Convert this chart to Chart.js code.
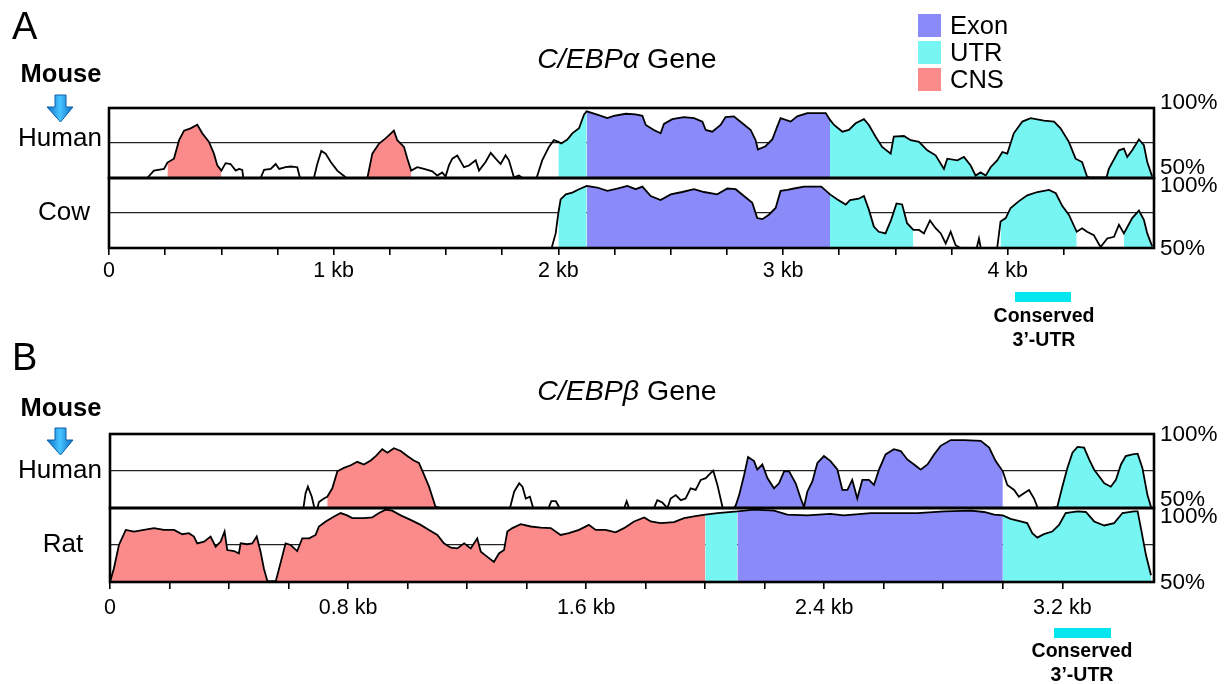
<!DOCTYPE html>
<html lang="en">
<head>
  <meta charset="UTF-8">
  <title>C/EBP conservation plots</title>
  <style>
    body {
      margin: 0;
      background: #fff;
      font-family: "Liberation Sans", Arial, sans-serif;
      color: #000;
    }
    .page {
      position: relative;
      width: 1231px;
      height: 684px;
      overflow: hidden;
      background: #fff;
    }
    .page canvas {
      position: absolute;
      left: 0;
      top: 0;
    }
    .lbl {
      position: absolute;
      white-space: nowrap;
      line-height: 1;
      transform: translate(-50%, -50%);
    }
    .lft {
      position: absolute;
      white-space: nowrap;
      line-height: 1;
      transform: translateY(-50%);
    }
    .panel { font-size: 38px; }
    .mouse { font-size: 25.5px; font-weight: bold; }
    .species { font-size: 26px; }
    .title { font-size: 28.5px; }
    .pct { font-size: 22.5px; }
    .leg { font-size: 25.5px; }
    .cons { font-size: 19.5px; font-weight: bold; }
    .box { position: absolute; }
  </style>
  <script src="https://cdn.jsdelivr.net/npm/chart.js"></script>
</head>
<body>
<div class="page">
  <canvas id="alphaHuman" width="1231" height="684"></canvas>
  <canvas id="alphaCow" width="1231" height="684"></canvas>
  <canvas id="betaHuman" width="1231" height="684"></canvas>
  <canvas id="betaRat" width="1231" height="684"></canvas>

  <!-- panel A -->
  <div class="lft panel" style="left:12px;top:26px">A</div>
  <div class="lbl title" style="left:627px;top:58px"><i>C/EBPα</i> Gene</div>
  <div class="lbl mouse" style="left:61px;top:74px">Mouse</div>
  <svg style="position:absolute;left:46px;top:94px" width="28" height="29" viewBox="0 0 28 29">
    <defs>
      <linearGradient id="arrowA" x1="0" x2="1" y1="0" y2="0">
        <stop offset="0" stop-color="#0a6cc4"/>
        <stop offset="0.5" stop-color="#47c4ff"/>
        <stop offset="1" stop-color="#0a6cc4"/>
      </linearGradient>
    </defs>
    <path d="M9 1 H20 V13 H27 L14.5 28 L1 13 H9 Z" fill="url(#arrowA)" stroke="#0b5fa8" stroke-width="1"/>
  </svg>
  <div class="lbl species" style="left:60px;top:137px">Human</div>
  <div class="lbl species" style="left:64px;top:211px">Cow</div>

  <div class="box" style="left:918px;top:14px;width:23px;height:23px;background:#8a8af9"></div>
  <div class="box" style="left:918px;top:41px;width:23px;height:23px;background:#76f5f2"></div>
  <div class="box" style="left:918px;top:68px;width:23px;height:23px;background:#fb8b8b"></div>
  <div class="lft leg" style="left:950px;top:26px">Exon</div>
  <div class="lft leg" style="left:950px;top:53px">UTR</div>
  <div class="lft leg" style="left:950px;top:80px">CNS</div>

  <div class="lft pct" style="left:1160px;top:102px">100%</div>
  <div class="lft pct" style="left:1160px;top:167px">50%</div>
  <div class="lft pct" style="left:1160px;top:185px">100%</div>
  <div class="lft pct" style="left:1160px;top:248px">50%</div>

  <div class="box" style="left:1015px;top:292px;width:56px;height:10px;background:#06e6f0"></div>
  <div class="lbl cons" style="left:1044px;top:316px">Conserved</div>
  <div class="lbl cons" style="left:1044px;top:340px">3’-UTR</div>

  <!-- panel B -->
  <div class="lft panel" style="left:12px;top:357px">B</div>
  <div class="lbl title" style="left:627px;top:390px"><i>C/EBPβ</i> Gene</div>
  <div class="lbl mouse" style="left:61px;top:408px">Mouse</div>
  <svg style="position:absolute;left:46px;top:427px" width="28" height="29" viewBox="0 0 28 29">
    <defs>
      <linearGradient id="arrowB" x1="0" x2="1" y1="0" y2="0">
        <stop offset="0" stop-color="#0a6cc4"/>
        <stop offset="0.5" stop-color="#47c4ff"/>
        <stop offset="1" stop-color="#0a6cc4"/>
      </linearGradient>
    </defs>
    <path d="M9 1 H20 V13 H27 L14.5 28 L1 13 H9 Z" fill="url(#arrowB)" stroke="#0b5fa8" stroke-width="1"/>
  </svg>
  <div class="lbl species" style="left:60px;top:469px">Human</div>
  <div class="lbl species" style="left:63px;top:543px">Rat</div>

  <div class="lft pct" style="left:1160px;top:434px">100%</div>
  <div class="lft pct" style="left:1160px;top:499px">50%</div>
  <div class="lft pct" style="left:1160px;top:516px">100%</div>
  <div class="lft pct" style="left:1160px;top:582px">50%</div>

  <div class="box" style="left:1054px;top:628px;width:57px;height:10px;background:#06e6f0"></div>
  <div class="lbl cons" style="left:1082px;top:651px">Conserved</div>
  <div class="lbl cons" style="left:1082px;top:675px">3’-UTR</div>
</div>

<script>
  // Position along the mouse sequence (kb) and percent identity; null = no alignment
  const alphaHumanPos = [0.170, 0.200, 0.245, 0.260, 0.289, 0.312, 0.334, 0.363, 0.393, 0.415, 0.445, 0.467, 0.482, 0.500,
    0.519, 0.541, 0.564, 0.579, 0.593, 0.598, 0.600, 0.675, 0.690, 0.720, 0.742, 0.757, 0.786, 0.809, 0.838, 0.850, 0.860,
    0.912, 0.927, 0.945, 0.964, 0.987, 1.016, 1.053, 1.060, 1.150, 1.172, 1.202, 1.231, 1.268, 1.283, 1.313, 1.328, 1.345,
    1.372, 1.402, 1.439, 1.461, 1.483, 1.498, 1.513, 1.528, 1.550, 1.580, 1.602, 1.632, 1.647, 1.676, 1.699, 1.721, 1.743,
    1.765, 1.780, 1.802, 1.825, 1.840, 1.850, 1.903, 1.928, 1.958, 1.980, 2.000, 2.013, 2.040, 2.062, 2.092, 2.114, 2.126,
    2.173, 2.218, 2.247, 2.300, 2.344, 2.374, 2.389, 2.425, 2.455, 2.470, 2.507, 2.559, 2.604, 2.641, 2.656, 2.685, 2.722,
    2.744, 2.781, 2.819, 2.856, 2.878, 2.888, 2.922, 2.952, 2.974, 2.989, 3.034, 3.063, 3.108, 3.190, 3.209, 3.227, 3.264,
    3.293, 3.323, 3.360, 3.382, 3.412, 3.441, 3.479, 3.493, 3.538, 3.568, 3.605, 3.642, 3.679, 3.716, 3.731, 3.776, 3.805,
    3.835, 3.857, 3.879, 3.902, 3.924, 3.953, 3.976, 3.998, 4.027, 4.065, 4.102, 4.161, 4.206, 4.235, 4.272, 4.302, 4.331,
    4.353, 4.365, 4.440, 4.450, 4.495, 4.517, 4.532, 4.554, 4.584, 4.606, 4.621, 4.643];
  const alphaHumanPct = [50, 55.3, 56.5, 61, 63.8, 77, 83.8, 85.5, 88, 82, 75.8, 67.4, 59, 55.3,
    60.6, 60, 55.3, 56.5, 55.8, 50, null, 50, 55.8, 56.5, 60, 56.5, 57.7, 58.2, 57.7, 50, null,
    50, 60, 69.3, 67.4, 61.4, 55.3, 50.5, null, 50, 67.4, 74.6, 78.3, 83.8, 77, 72.2, 63.8, 55.3,
    57.7, 56.5, 54.8, 51.7, 54, 51, 59, 63.8, 66, 57.7, 58.9, 62.6, 55.3, 61.4, 68, 63.8, 60,
    66.2, 62.6, 50.5, 51.7, 50, null, 50, 62.6, 72.2, 77, 75.8, 74.6, 77.5, 81.9, 85.5, 95.2, 97.6,
    95.2, 92.8, 94.4, 95.9, 95.4, 94.4, 87.9, 84.3, 81.9, 88.6, 92, 93.5, 92.8, 90.3, 84.3, 83.1, 87.9,
    93.5, 94, 89.1, 84.3, 77, 70.3, 72.7, 77.5, 86.7, 92.8, 90.3, 94, 96.4, 96.4, 91.5, 87.9, 83.1,
    84.3, 89.1, 92, 87.9, 79.5, 72.2, 67.4, 79.5, 80, 77, 75.8, 69.8, 66.2, 56.5, 63.8, 62.6, 65,
    58.9, 51.7, 54, 51.7, 57.7, 62.6, 68.6, 67.4, 81.9, 90.3, 92.8, 91, 90.3, 85.5, 75.8, 63.8, 61.4,
    51, 50.5, 50.5, 56.5, 69.8, 71, 65, 69.8, 77.5, 73.4, 61.4, 51];
  const alphaHumanRegions = [[0.260, 0.500, 'CNS'], [1.150, 1.345, 'CNS'], [2.000, 2.126, 'UTR'],
    [2.126, 3.209, 'Exon'], [3.209, 4.643, 'UTR']];

  const alphaCowPos = [1.970, 1.988, 2.000, 2.010, 2.033, 2.062, 2.092, 2.126, 2.173, 2.218, 2.262, 2.307, 2.344, 2.374,
    2.411, 2.455, 2.500, 2.551, 2.604, 2.648, 2.707, 2.752, 2.789, 2.826, 2.863, 2.885, 2.908, 2.937, 2.967, 2.989, 3.019,
    3.049, 3.093, 3.170, 3.209, 3.242, 3.279, 3.298, 3.337, 3.360, 3.382, 3.404, 3.426, 3.456, 3.481, 3.505, 3.530, 3.552,
    3.580, 3.605, 3.627, 3.654, 3.679, 3.702, 3.724, 3.746, 3.768, 3.790, 3.800, 3.862, 3.872, 3.880, 3.890, 3.953, 3.968,
    3.991, 4.013, 4.050, 4.087, 4.132, 4.184, 4.214, 4.243, 4.272, 4.307, 4.331, 4.353, 4.383, 4.413, 4.443, 4.473, 4.495,
    4.517, 4.554, 4.584, 4.606, 4.621, 4.643];
  const alphaCowPct = [50, 60.4, 75, 84.7, 88.3, 89.6, 92, 94.4, 93.2, 90.8, 92.5, 94.4, 92, 93.9,
    87.1, 84.2, 88.3, 90, 92, 90, 88.3, 92.5, 92, 87.1, 82.3, 71.4, 70.6, 73.8, 78.6, 90.8, 91.5,
    92.5, 93.9, 93.9, 88.3, 84.7, 81, 84.2, 85.2, 87.1, 77.4, 65.3, 61.6, 60.4, 70.1, 81.8, 81.1, 67.7,
    62.9, 62.9, 60.4, 69.7, 64.1, 60.4, 53.2, 61.6, 52, 50, null, 50, 56.8, 50, null, 50, 68.9,
    71.4, 78.6, 83.5, 87.6, 90, 91.5, 89.1, 79.9, 73.8, 61.6, 64.1, 61.6, 59.2, 50.7, 56.8, 58, 66.5,
    60.4, 71.4, 76.7, 70.1, 60.4, 51.2];
  const alphaCowRegions = [[2.000, 2.126, 'UTR'], [2.126, 3.209, 'Exon'], [3.209, 3.580, 'UTR'],
    [3.968, 4.307, 'UTR'], [4.517, 4.643, 'UTR']];

  const betaHumanPos = [0.650, 0.657, 0.665, 0.678, 0.686, 0.690, 0.697, 0.702, 0.719, 0.730, 0.747, 0.764, 0.786, 0.809,
    0.831, 0.853, 0.876, 0.893, 0.915, 0.932, 0.954, 0.977, 0.999, 1.021, 1.038, 1.055, 1.072, 1.094, 1.111, 1.120,
    1.344, 1.358, 1.375, 1.386, 1.397, 1.411, 1.422, 1.430, 1.475, 1.483, 1.498, 1.509, 1.515, 1.728, 1.736, 1.744, 1.750,
    1.828, 1.839, 1.856, 1.873, 1.884, 1.901, 1.918, 1.934, 1.951, 1.968, 1.985, 2.002, 2.013, 2.027, 2.041, 2.058, 2.065,
    2.097, 2.103, 2.114, 2.131, 2.144, 2.164, 2.175, 2.192, 2.209, 2.231, 2.248, 2.265, 2.282, 2.304, 2.321, 2.332, 2.343,
    2.360, 2.377, 2.399, 2.421, 2.444, 2.461, 2.478, 2.494, 2.511, 2.528, 2.550, 2.567, 2.584, 2.606, 2.634, 2.657, 2.679,
    2.702, 2.724, 2.747, 2.769, 2.791, 2.825, 2.870, 2.926, 2.954, 2.976, 3.000, 3.015, 3.038, 3.054, 3.071, 3.088, 3.105,
    3.116, 3.125, 3.165, 3.183, 3.200, 3.217, 3.234, 3.251, 3.273, 3.290, 3.307, 3.324, 3.341, 3.363, 3.380, 3.397, 3.413,
    3.436, 3.453, 3.469, 3.486, 3.498];
  const betaHumanPct = [50, 59.9, 64.4, 57.6, 50.7, null, 50, 54.1, 56.4, 57.6, 63.3, 74.8, 77.1, 78.9,
    81.2, 79.4, 82.1, 85.1, 89.7, 87.4, 90.4, 88.5, 85.1, 82.1, 80.5, 72.5, 64.4, 50.7, 50, null,
    50, 61, 66.7, 64.4, 56.4, 57.6, 50, null, 50.7, 54.6, 54.6, 50.7, null, 50, 54.6, 50, null,
    50, 55.3, 53.7, 50, 56.4, 58.7, 55.3, 56.4, 63.3, 62.2, 69, 70.2, 72.5, 75.2, 65.6, 50.7, null,
    50, 52, 58.7, 72.5, 84.4, 81.7, 76, 79.4, 70.2, 63.3, 66.7, 74.8, 74.8, 66.7, 56.4, 50.7, 61,
    67.9, 80.5, 85.1, 81.7, 76, 62.2, 62.2, 69, 56.4, 69, 69, 65.6, 75.9, 86.2, 89.7, 88.5, 82.8,
    79.4, 75.9, 79.4, 86.2, 92, 95.9, 95.9, 95.4, 90.8, 81.7, 74.8, 65.6, 62.2, 57.6, 59.9, 62.2, 56.4,
    50.7, null, 50, 50.7, 64.4, 77.1, 87.4, 91.3, 90.8, 82.8, 75.9, 71.3, 66.7, 64.4, 69, 79.4, 85.1,
    86.2, 86.7, 77.1, 58.7, 50.7];
  const betaHumanRegions = [[0.730, 1.111, 'CNS'], [2.103, 3.000, 'Exon'], [3.165, 3.498, 'UTR']];

  const betaRatPos = [0.000, 0.013, 0.030, 0.053, 0.081, 0.114, 0.148, 0.181, 0.215, 0.243, 0.265, 0.282, 0.293, 0.316,
    0.338, 0.355, 0.372, 0.385, 0.394, 0.417, 0.433, 0.439, 0.461, 0.478, 0.493, 0.506, 0.517, 0.529, 0.557, 0.574, 0.590,
    0.607, 0.629, 0.646, 0.669, 0.691, 0.702, 0.725, 0.753, 0.775, 0.797, 0.814, 0.853, 0.881, 0.904, 0.926, 0.948, 0.977,
    1.010, 1.044, 1.072, 1.100, 1.122, 1.145, 1.167, 1.190, 1.212, 1.234, 1.246, 1.268, 1.290, 1.307, 1.324, 1.335, 1.352,
    1.380, 1.414, 1.447, 1.481, 1.514, 1.542, 1.576, 1.609, 1.632, 1.665, 1.699, 1.727, 1.761, 1.795, 1.817, 1.850, 1.895,
    1.929, 1.962, 2.000, 2.041, 2.108, 2.164, 2.231, 2.276, 2.343, 2.420, 2.466, 2.556, 2.713, 2.803, 2.892, 2.937, 2.971,
    3.000, 3.026, 3.060, 3.082, 3.099, 3.116, 3.138, 3.166, 3.189, 3.211, 3.251, 3.279, 3.307, 3.341, 3.374, 3.402, 3.441,
    3.453, 3.464, 3.481, 3.498];
  const betaRatPct = [50, 59.1, 75, 85.2, 84.1, 85.2, 86.4, 85.2, 85.2, 82.3, 83, 80.7, 76.1, 77.3,
    80.7, 73.9, 77.3, 84.1, 71.6, 70.9, 69.3, 76.1, 75.5, 76.1, 80.7, 70.5, 59.1, 50.5, 50.5, 63.6, 76.1,
    75, 70.9, 79.5, 79.5, 81.8, 87.5, 90.9, 94.3, 96.6, 95, 93.2, 93.2, 93.6, 96.6, 98.9, 98.2, 95,
    92, 88.6, 85.2, 81.8, 76.1, 73.2, 72.7, 76.1, 72.7, 79.5, 70.5, 67, 63.6, 69.3, 71.6, 84.1, 86.4,
    89.1, 87.5, 86.8, 86.4, 81.8, 83, 85.2, 88.6, 85.2, 85.2, 83.6, 86.4, 90.9, 93.6, 90.9, 89.8, 90.5,
    93.2, 94.3, 95.5, 96.6, 97.7, 98.9, 98.2, 95.5, 95, 96, 95, 96.6, 96.6, 97.7, 98.2, 97.3, 95.5,
    95, 92.7, 90.9, 89.8, 83, 80, 82.3, 84.1, 88.6, 96.6, 97.7, 97.3, 90.9, 88.2, 89.8, 96.6, 97.7,
    97.7, 86.4, 68.2, 54.5];
  const betaRatRegions = [[0.000, 2.000, 'CNS'], [2.000, 2.108, 'UTR'], [2.108, 3.000, 'Exon'], [3.000, 3.498, 'UTR']];

  const FILL = { Exon: '#8a8af9', UTR: '#76f5f2', CNS: '#fb8b8b' };
  const W = 1231, H = 684, AXIS_H = 40;

  Chart.defaults.font.family = '"Liberation Sans", Arial, sans-serif';

  // black box round each track
  const frame = {
    id: 'frame',
    afterDraw(chart) {
      const { ctx, chartArea: a } = chart;
      ctx.save();
      ctx.lineWidth = 2.6;
      ctx.strokeStyle = '#000';
      ctx.strokeRect(a.left, a.top, a.right - a.left, a.bottom - a.top);
      ctx.restore();
    }
  };

  function near(v, step) {
    return Math.abs(v / step - Math.round(v / step)) < 1e-6;
  }

  function track(id, pos, pct, regions, g) {
    const pts = pos.map((x, i) => ({ x: x, y: pct[i] }));
    const fills = regions.map(([a, b, kind]) => ({
      data: pts.filter(p => p.y !== null && p.x >= a - 1e-9 && p.x <= b + 1e-9),
      borderWidth: 0,
      pointRadius: 0,
      backgroundColor: FILL[kind],
      fill: { value: 50 }
    }));

    new Chart(document.getElementById(id), {
      type: 'line',
      data: {
        datasets: [{
          data: pts,
          borderColor: '#000',
          borderWidth: 1.8,
          pointRadius: 0,
          fill: false,
          spanGaps: false
        }, ...fills]
      },
      options: {
        responsive: false,
        animation: false,
        events: [],
        layout: {
          padding: {
            left: g.left,
            right: W - g.right,
            top: g.top,
            bottom: H - g.bottom - (g.axis ? AXIS_H : 0)
          }
        },
        plugins: { legend: { display: false }, tooltip: { enabled: false } },
        scales: {
          x: {
            type: 'linear',
            min: 0,
            max: g.max,
            display: g.axis,
            afterBuildTicks: s => { s.ticks = s.ticks.filter(t => near(t.value, g.step)); },
            // only the bottom track of a panel keeps room for the kb axis
            afterFit: s => { s.height = g.axis ? AXIS_H : 0; },
            ticks: {
              stepSize: g.step,
              autoSkip: false,
              maxRotation: 0,
              padding: g.pad,
              color: '#000',
              font: { size: 21.5 },
              callback: v => near(v, g.every) ? (v === 0 ? '0' : (+v.toFixed(1)) + ' kb') : ''
            },
            grid: { drawOnChartArea: false, drawTicks: true, tickLength: 7, color: '#000', lineWidth: 1.6 },
            border: { display: false }
          },
          y: {
            min: 50,
            max: 100,
            afterFit: s => { s.width = 0; },
            ticks: { stepSize: 25, display: false },
            grid: { drawTicks: false, color: '#222', lineWidth: 1.2 },
            border: { display: false }
          }
        }
      },
      plugins: [frame]
    });
  }

  const alphaAxis = { left: 109, right: 1154, max: 4.651, step: 0.25, every: 1, pad: 3 };
  const betaAxis = { left: 110, right: 1154, max: 3.508, step: 0.2, every: 0.8, pad: 6 };

  track('alphaHuman', alphaHumanPos, alphaHumanPct, alphaHumanRegions, { ...alphaAxis, top: 108, bottom: 178, axis: false });
  track('alphaCow', alphaCowPos, alphaCowPct, alphaCowRegions, { ...alphaAxis, top: 178, bottom: 248, axis: true });
  track('betaHuman', betaHumanPos, betaHumanPct, betaHumanRegions, { ...betaAxis, top: 434, bottom: 508, axis: false });
  track('betaRat', betaRatPos, betaRatPct, betaRatRegions, { ...betaAxis, top: 508, bottom: 582, axis: true });
</script>
</body>
</html>
